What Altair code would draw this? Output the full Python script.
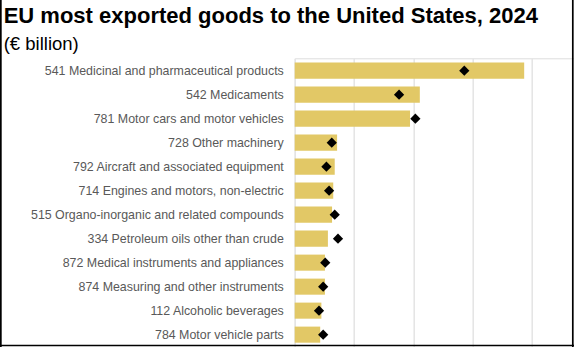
import altair as alt
import pandas as pd

labels = [
    "541 Medicinal and pharmaceutical products",
    "542 Medicaments",
    "781 Motor cars and motor vehicles",
    "728 Other machinery",
    "792 Aircraft and associated equipment",
    "714 Engines and motors, non-electric",
    "515 Organo-inorganic and related compounds",
    "334 Petroleum oils other than crude",
    "872 Medical instruments and appliances",
    "874 Measuring and other instruments",
    "112 Alcoholic beverages",
    "784 Motor vehicle parts",
]
values_2024 = [77.4, 42.2, 38.9, 14.3, 13.5, 13.0, 12.6, 11.2, 10.2, 10.2, 9.0, 8.6]
values_prev = [57.2, 35.2, 40.7, 12.5, 10.7, 11.6, 13.5, 14.6, 10.3, 9.6, 8.2, 9.6]
grid_values = [0, 20, 40, 60, 80]

df = pd.DataFrame({"label": labels, "v2024": values_2024, "vprev": values_prev})

FONT = "Liberation Sans"
x_scale = alt.Scale(domain=[0, 94.2], nice=False, zero=True)
y_enc = alt.Y(
    "label:N",
    sort=labels,
    scale=alt.Scale(paddingInner=0.33, paddingOuter=0.18),
    axis=alt.Axis(
        title=None, ticks=False, tickSize=0, domain=False, grid=False,
        labelFont=FONT, labelFontSize=12.4, labelColor="#595959",
        labelPadding=11.4, labelLimit=400,
    ),
)

bars = alt.Chart(df).mark_bar(color="#E2C866").encode(
    x=alt.X(
        "v2024:Q",
        scale=x_scale,
        axis=alt.Axis(
            title=None, labels=False, ticks=False, domain=False,
            grid=True, gridColor="#e4e4e4", gridWidth=1.5, values=grid_values,
        ),
    ),
    y=y_enc,
)

diamonds = alt.Chart(df).mark_point(
    shape="diamond", filled=True, color="black", size=105, opacity=1
).encode(
    x=alt.X("vprev:Q", scale=x_scale),
    y=y_enc,
)

frame_data = alt.Data(values=[{}])
left_border = alt.Chart(frame_data).mark_rule(color="black", strokeWidth=1.7).encode(
    x=alt.value(-293.85), y=alt.value(-58.3), y2=alt.value(288.7)
)
right_border = alt.Chart(frame_data).mark_rule(color="black", strokeWidth=1.7).encode(
    x=alt.value(278.1), y=alt.value(-58.3), y2=alt.value(288.7)
)
bottom_border = alt.Chart(frame_data).mark_rule(color="black", strokeWidth=1.6).encode(
    x=alt.value(-294.7), x2=alt.value(279.3), y=alt.value(287.2)
)

chart = alt.layer(bars, diamonds, left_border, right_border, bottom_border).properties(
    width=279.3,
    height=288.7,
    title=alt.TitleParams(
        text="EU most exported goods to the United States, 2024",
        subtitle="(€ billion)",
        anchor="start",
        frame="group",
        dx=-291,
        dy=59,
        offset=4,
        font=FONT,
        fontSize=22,
        fontWeight="bold",
        color="black",
        subtitleFont=FONT,
        subtitleFontSize=18.5,
        subtitleColor="black",
        subtitlePadding=7,
    ),
    autosize=alt.AutoSizeParams(type="none"),
    padding={"left": 294.7, "top": 58.3, "right": 0, "bottom": 0},
).configure_view(stroke=None).configure(background="white")

chart.save("out.html", embed_options={"renderer": "svg", "actions": False})
